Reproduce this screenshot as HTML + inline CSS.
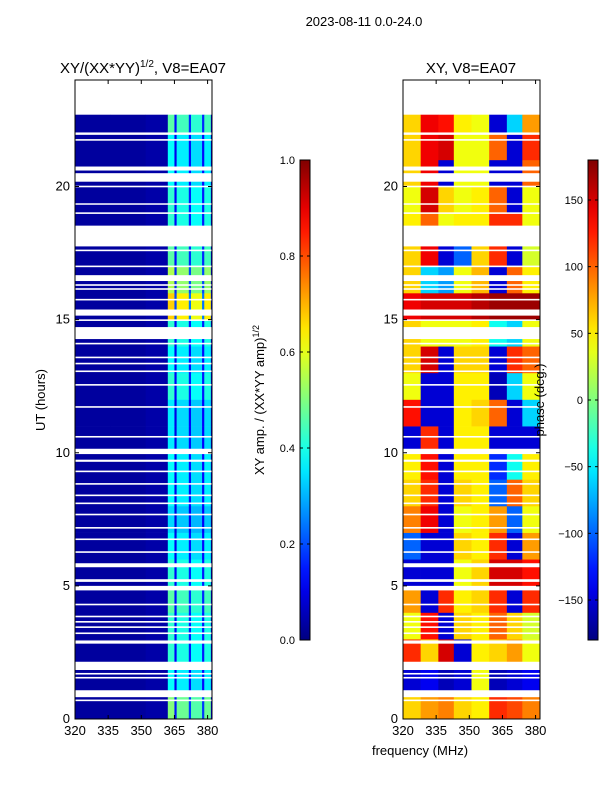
<!DOCTYPE html>
<html><head><meta charset="utf-8"><style>
body{margin:0;background:#fff;width:600px;height:800px;overflow:hidden}
svg{font-family:"Liberation Sans",sans-serif}
</style></head><body>
<svg id="fig" width="600" height="800" xmlns="http://www.w3.org/2000/svg">
<text x="364" y="26" font-size="13" text-anchor="middle">2023-08-11 0.0-24.0</text>
<text x="143" y="73" font-size="15" text-anchor="middle">XY/(XX*YY)<tspan font-size="10" dy="-6">1/2</tspan><tspan dy="6">, V8=EA07</tspan></text>
<text x="471" y="73" font-size="15" text-anchor="middle">XY, V8=EA07</text>
<text x="45" y="400" font-size="13" text-anchor="middle" transform="rotate(-90 45 400)">UT (hours)</text>
<text x="420" y="755" font-size="13" text-anchor="middle">frequency (MHz)</text>
<text x="264" y="400" font-size="13" text-anchor="middle" transform="rotate(-90 264 400)">XY amp. / (XX*YY amp)<tspan font-size="9" dy="-5">1/2</tspan></text>
<g id="g"></g>
<text x="544" y="400" font-size="13" text-anchor="middle" transform="rotate(-90 544 400)">phase (deg.)</text>
</svg>
<script>
// data
const freqEdgesAmp=[320,336,352,362,365,366,371.5,372.5,377.5,378.5,381.5,382];
const ampProfile=[0.03,0.03,0.04,0.42,0.12,0.4,0.15,0.38,0.15,0.4,0.1];
const ampRowScale=[1.2,0.9,1.0,1.0,1.1,1.0,0.9,0.8,0.9,0.9,0.85,0.85,1.0,0.9,1.0,1.6,1.3,1.1,1.0,1.0,0.9,0.9,1.1];
const freqEdgesPhase=[320,328,336,343,351,359,367,374,382];
const phaseRows=[
[60,80,90,60,50,120,110,90],
[-150,-140,-160,-150,40,-160,-150,-140],
[120,60,150,-150,50,60,80,40],
[40,130,-150,60,50,100,60,30],
[80,-150,120,50,60,120,-150,120],
[-150,-150,-150,40,60,150,150,130],
[-100,-150,-150,60,50,120,-150,80],
[90,140,-150,40,50,80,-100,40],
[60,120,-150,60,50,-100,100,60],
[50,130,-150,50,50,-120,-40,50],
[-150,120,-150,50,50,-150,-150,-150],
[130,-150,-150,50,60,100,-150,-60],
[40,-150,-150,50,50,-160,-60,40],
[60,150,-150,60,60,-150,120,100],
[60,40,40,40,50,-40,-60,40],
[140,150,150,150,160,170,170,170],
[60,-60,-80,40,70,-150,100,50],
[60,140,-150,-100,60,120,-150,30],
[50,100,40,50,50,120,120,40],
[40,150,60,40,50,100,-150,40],
[60,140,-150,40,40,-150,-150,100],
[60,140,150,40,40,100,-150,120],
[60,140,130,50,40,-150,-60,80]];
const utEnd=22.7;
const gaps=[[22.7,24],[21.94,22.03],[21.72,21.78],[20.6,20.75],[20.18,20.5],[19.97,20.03],[19.32,19.37],[18.97,19.03],[17.75,18.53],[17.57,17.63],[16.97,17.03],[16.45,16.67],[16.27,16.33],[16.12,16.18],[15.72,15.78],[15.15,15.38],[14.95,15.01],[14.27,14.72],[14.07,14.13],[13.55,13.61],[13.32,13.38],[13.03,13.09],[12.52,12.58],[11.69,11.75],[10.57,10.63],[9.95,10.15],[9.66,9.74],[9.27,9.33],[8.8,8.86],[8.37,8.43],[8.07,8.13],[7.65,7.71],[7.15,7.21],[6.72,6.78],[6.24,6.3],[5.7,5.85],[5.15,5.25],[4.83,5.0],[4.27,4.33],[3.82,3.88],[3.62,3.68],[3.42,3.48],[3.19,3.25],[2.83,2.95],[1.84,2.15],[1.67,1.73],[1.52,1.58],[0.82,1.08],[0.67,0.73]];
const xTicks=[320,335,350,365,380];
const yTicks=[0,5,10,15,20];
const ampTicks=[0.0,0.2,0.4,0.6,0.8,1.0];
const phaseTicks=[-150,-100,-50,0,50,100,150];

const NS="http://www.w3.org/2000/svg";
const G=document.getElementById('g');
function el(t,a,p){const e=document.createElementNS(NS,t);for(const k in a)e.setAttribute(k,a[k]);(p||G).appendChild(e);return e;}
function jet(v){v=Math.max(0,Math.min(1,v));
 const r=Math.min(4*v-1.5,-4*v+4.5),g=Math.min(4*v-0.5,-4*v+3.5),b=Math.min(4*v+0.5,-4*v+2.5);
 const c=x=>Math.round(255*Math.max(0,Math.min(1,x)));return `rgb(${c(r)},${c(g)},${c(b)})`;}
const fMin=320,fMax=382,yTop=80,yBot=719;
function yS(ut){return yBot-ut*(yBot-yTop)/24;}
function panel(x0,x1,name,edges,valFn){
 const xS=f=>x0+(f-fMin)*(x1-x0)/(fMax-fMin);
 const grp=el('g',{});
 
 
 for(let r=0;r<23;r++){
  const u0=r,u1=Math.min(r+1,utEnd);
  for(let c=0;c<edges.length-1;c++){
   const rc=el('rect',{x:xS(edges[c]),y:yS(u1),width:xS(edges[c+1])-xS(edges[c])+0.3,height:yS(u0)-yS(u1)+0.3,fill:jet(valFn(r,c))},grp);
   
   
  }
 }
 gaps.forEach(gp=>{
  const h=Math.max(1.5,yS(gp[0])-yS(gp[1]));
  const gr=el('rect',{x:x0,y:yS(gp[1]),width:x1-x0,height:h,fill:'#fff'},grp);
  
  
 });
 const fr=el('rect',{x:x0,y:yTop,width:x1-x0,height:yBot-yTop,fill:'none',stroke:'#000','stroke-width':1});
 
 
 xTicks.forEach(t=>{const x=xS(t);
  el('line',{x1:x,x2:x,y1:yBot,y2:yBot-4,stroke:'#000'});el('line',{x1:x,x2:x,y1:yTop,y2:yTop+4,stroke:'#000'});
  const tx=el('text',{x:x,y:yBot+16,'font-size':13,'text-anchor':'middle'});tx.textContent=t;
  
  });
 yTicks.forEach(t=>{const y=yS(t);
  el('line',{x1:x0,x2:x0+4,y1:y,y2:y,stroke:'#000'});el('line',{x1:x1,x2:x1-4,y1:y,y2:y,stroke:'#000'});
  const tx=el('text',{x:x0-5,y:y+4,'font-size':13,'text-anchor':'end'});tx.textContent=t;
  
  });
}
panel(75,212,'amplitude-heatmap',freqEdgesAmp,(r,c)=>ampProfile[c]*(c>=3?ampRowScale[r]:1));
panel(403,540,'phase-heatmap',freqEdgesPhase,(r,c)=>(phaseRows[r][c]+180)/360);

// colorbars
const defs=el('defs',{});
const lg=el('linearGradient',{id:'jetg',x1:0,y1:1,x2:0,y2:0},defs);
for(let i=0;i<=20;i++)el('stop',{offset:i/20,'stop-color':jet(i/20)},lg);
function cbar(x,name,ticks,vmin,vmax,fmt){
 const cy0=160,cy1=640;
 const r=el('rect',{x:x,y:cy0,width:10,height:cy1-cy0,fill:'url(#jetg)',stroke:'#000','stroke-width':1});
 
 
 ticks.forEach(t=>{const y=cy1-(t-vmin)/(vmax-vmin)*(cy1-cy0);
  el('line',{x1:x+10,x2:x+7,y1:y,y2:y,stroke:'#000'});
  el('line',{x1:x,x2:x+3,y1:y,y2:y,stroke:'#000'});
  const tx=el('text',{x:x-5,y:y+4,'font-size':11,'text-anchor':'end'});tx.textContent=fmt(t);
  
  });
}
cbar(300,'amp-colorbar',ampTicks,0,1,t=>t.toFixed(1));
cbar(588,'phase-colorbar',phaseTicks,-180,180,t=>t<0?'\u2212'+(-t):String(t));
</script>
</body></html>
